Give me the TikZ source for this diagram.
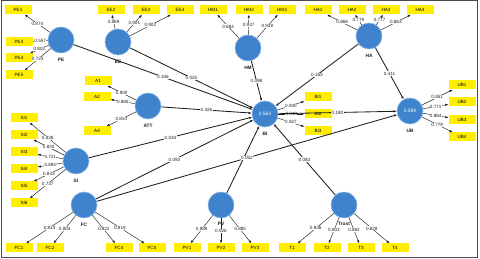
\documentclass[tikz,border=0pt]{standalone}
\usepackage{fontspec}
\setmainfont{Liberation Sans}
\usetikzlibrary{arrows.meta}
\definecolor{construct}{RGB}{62,131,204}
\definecolor{rim}{RGB}{130,180,230}
\definecolor{indyellow}{RGB}{255,238,0}
\definecolor{ink}{RGB}{30,30,30}
\definecolor{frame}{RGB}{75,75,75}
\tikzset{
  >={Latex[length=3pt,width=2.4pt]},
  latent/.style={circle,fill=construct,draw=rim,line width=0.6pt,minimum size=26pt,inner sep=0pt,
    text=white,font=\fontsize{4.8}{5}\selectfont},
  item/.style={fill=indyellow,minimum width=27pt,minimum height=9pt,inner sep=0pt,
    font=\fontsize{4.6}{5}\selectfont},
  cname/.style={font=\fontsize{4.8}{5}\selectfont\bfseries,text=ink},
  load/.style={->,draw=ink,line width=0.45pt},
  link/.style={->,draw=ink,line width=0.85pt},
  coef/.style={font=\fontsize{4.6}{5}\selectfont,fill=white,inner sep=0.4pt,text=ink},
}
\begin{document}
\begin{tikzpicture}[x=1pt,y=-1pt]
\useasboundingbox (0,0) rectangle (480,259);
\draw[frame,line width=1.2pt] (1.2,0.8) rectangle (477.4,257.2);
% constructs
\node[latent,label={[cname,label distance=1pt]below:PE}] (PE) at (61,40) {};
\node[latent,label={[cname,label distance=1pt]below:EE}] (EE) at (118,42) {};
\node[latent,label={[cname,label distance=1pt]below:HM}] (HM) at (248,48) {};
\node[latent,label={[cname,label distance=1pt]below:HA}] (HA) at (369,36) {};
\node[latent,label={[cname,label distance=1pt]below:ATT}] (ATT) at (148,106) {};
\node[latent,label={[cname,label distance=1pt]below:SI}] (SI) at (76,161) {};
\node[latent,label={[cname,label distance=1pt]below:FC}] (FC) at (84,205) {};
\node[latent,label={[cname,label distance=0pt]below:PV}] (PV) at (221,205) {};
\node[latent,label={[cname,label distance=0pt]below:Trust}] (Trust) at (344,205) {};
\node[latent,label={[cname,label distance=1pt]below:BI}] (BI) at (265,114) {0.563};
\node[latent,label={[cname,label distance=1pt]below:UB}] (UB) at (410,111) {0.399};
% indicators
\foreach \c/\n/\x/\y/\v in {PE/PE1/18/10/0.874, PE/PE3/19/42/0.557, PE/PE4/19/58/0.802, PE/PE5/19/75/0.723,
    EE/EE2/111/10/0.889, EE/EE3/146/10/0.901, EE/EE4/180/10/0.902,
    HM/HM1/213/10/0.884, HM/HM2/249/10/0.937, HM/HM3/282/10/0.938,
    HA/HA1/318/10/0.868, HA/HA2/352/10/0.779, HA/HA3/386/10/0.777, HA/HA4/420/10/0.863,
    ATT/A1/98/81/0.900, ATT/A2/97/97/0.885, ATT/A4/97/131/0.810,
    SI/SI1/24/118/0.838, SI/SI2/24/135/0.833, SI/SI3/24/152/0.721,
    SI/SI4/24/169/0.894, SI/SI5/24/186/0.843, SI/SI6/24/203/0.737,
    FC/FC1/19/248/0.814, FC/FC2/50/248/0.804, FC/FC4/119/248/0.822, FC/FC5/152/248/0.819,
    PV/PV1/187/248/0.889, PV/PV2/221/248/0.926, PV/PV3/255/248/0.885,
    Trust/T1/292/248/0.836, Trust/T2/327/248/0.803, Trust/T3/361/248/0.882, Trust/T4/395/248/0.828,
    BI/BI1/318/97/0.940, BI/BI2/318/114/0.943, BI/BI3/318/131/0.927,
    UB/UB1/462/85/0.851, UB/UB2/462/102/0.771, UB/UB3/462/120/0.884, UB/UB4/462/137/0.779}{
  \node[item] (\n) at (\x,\y) {\n};
  \draw[load] (\c) -- node[coef] {\v} (\n);
}
% structural paths
\draw[link] (PV) -- (BI);
\foreach \a/\b/\v in {PE/BI/0.106, EE/BI/0.025, HM/BI/0.098, HA/BI/0.163, ATT/BI/0.426,
    SI/BI/0.034, FC/BI/0.093, Trust/BI/0.083, BI/UB/0.180, HA/UB/0.411, FC/UB/0.052}{
  \draw[link] (\a) -- node[coef] {\v} (\b);
}
\end{tikzpicture}
\end{document}
